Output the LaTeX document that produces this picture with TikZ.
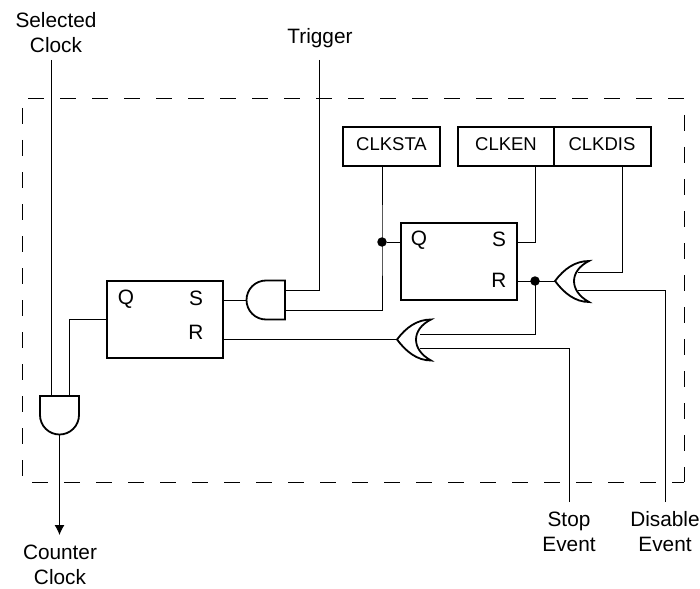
\documentclass[tikz,border=0pt]{standalone}
\usepackage{fontspec}
\setmainfont{Liberation Sans}
\usepackage{xcolor}
\usetikzlibrary{arrows.meta}

\tikzset{
    regbox/.style={draw, line width=1.8pt, rectangle, inner sep=0pt},
    tag/.style={font=\fontsize{20.8}{25}\selectfont, align=center, inner sep=0pt},
    bittag/.style={font=\fontsize{18.5}{22}\selectfont, inner sep=0pt},
    wire/.style={line width=0.95pt},
    frameline/.style={line width=0.95pt, dash pattern=on 16pt off 16pt},
    junction/.style={circle, fill=black, inner sep=0pt, minimum size=9.5pt},
    pics/andgate/.style={code={
        \draw[line width=1.8pt, fill=white] (0,-19.5) -- (-19,-19.5) arc (270:90:19.5) -- (0,19.5) -- cycle;
        \coordinate (-tip) at (-38.5,0);
        \coordinate (-in1) at (0,-10);
        \coordinate (-in2) at (0,10);
    }},
    pics/orgate/.style={code={
        \draw[line width=1.8pt, fill=white] (0,0) .. controls (9,-12) and (20,-20) .. (34,-20)
            .. controls (14,-10) and (14,10) .. (34,21)
            .. controls (20,21) and (9,12) .. (0,0) -- cycle;
        \coordinate (-tip) at (0,0);
        \coordinate (-in1) at (23,-9);
        \coordinate (-in2) at (23,9);
    }},
}

\begin{document}
\begin{tikzpicture}[x=1pt, y=-1pt]
    \useasboundingbox (0,0) rectangle (700,588);

    % frame
    \coordinate (frameTL) at (28,98);
    \coordinate (frameTR) at (684,98);
    \coordinate (frameRT) at (684,115);
    \coordinate (frameBR) at (684,482);
    \coordinate (frameBL) at (32,482);
    \coordinate (frameLT) at (22,108);
    \coordinate (frameLB) at (22,476);
    \draw[frameline] (frameTL) -- (frameTR);
    \draw[frameline] (frameRT) -- (frameBR);
    \draw[frameline] (frameBL) -- (frameBR);
    \draw[frameline] (frameLT) -- (frameLB);

    % registers
    \node[regbox, minimum width=116pt, minimum height=77pt] (regA) at (165,319.5) {};
    \node[regbox, minimum width=116pt, minimum height=77pt] (regB) at (459,261.5) {};
    \node[tag] (regAq) at (126,299.5) {Q};
    \node[tag] (regAs) at (196,298) {S};
    \node[tag] (regAr) at (196,332) {R};
    \node[tag] (regBq) at (419,240.5) {Q};
    \node[tag] (regBs) at (499,239) {S};
    \node[tag] (regBr) at (499,280) {R};

    % control bits
    \node[regbox, minimum width=97pt, minimum height=39pt] (clksta) at (391.5,146.5) {};
    \node[regbox, minimum width=96pt, minimum height=39pt] (clken) at (506,146.5) {};
    \node[regbox, minimum width=97pt, minimum height=39pt] (clkdis) at (602.5,146.5) {};
    \node[bittag] (clkstaT) at (391.5,144) {CLKSTA};
    \node[bittag] (clkenT) at (506,144) {CLKEN};
    \node[bittag] (clkdisT) at (602,144) {CLKDIS};

    % gates
    \pic (andA) at (285,300) {andgate};
    \pic[rotate=90] (andB) at (59.5,396) {andgate};
    \pic (orA) at (555,281) {orgate};
    \pic (orB) at (397,339.5) {orgate};

    % outer labels
    \node[tag] (selclk) at (56,32.5) {Selected\\Clock};
    \node[tag] (trig) at (320,38) {Trigger};
    \node[tag] (cntclk) at (60,564.5) {Counter\\Clock};
    \node[tag] (stopev) at (569,531.5) {Stop\\Event};
    \node[tag] (disev) at (665,531.5) {Disable\\Event};

    % free ends
    \coordinate (selend) at (51,60);
    \coordinate (trigend) at (319,60);
    \coordinate (stopend) at (569,502);
    \coordinate (disend) at (665,502);
    \coordinate (cntend) at (59.5,535);

    \coordinate (starun) at (382,242);
    \coordinate (rdot) at (535,281);
    \node[junction] (stadot) at (starun) {};
    \node[junction] (rstdot) at (rdot) {};

    % wires
    \draw[wire] (selend) -- (selend |- andB-in1);
    \draw[wire] (andB-in2) -- (andB-in2 |- 107,319) -- (regA.west |- 107,319);
    \draw[wire, -{Latex[length=10pt,width=10pt]}] (andB-tip) -- (cntend);
    \draw[wire] (regA.east |- andA-tip) -- (andA-tip);
    \draw[wire] (trigend) -- (trigend |- andA-in1) -- (andA-in1);
    \draw[wire] (clksta.south -| starun) -- (starun) -- (starun |- andA-in2) -- (andA-in2);
    \draw[wire] (stadot) -- (regB.west |- stadot);
    \draw[wire] (clken.south -| rdot) -- (rdot |- stadot) -- (regB.east |- stadot);
    \draw[wire] (regB.east |- rdot) -- (orA-tip);
    \draw[wire] (clkdis.south -| 622,0) -- (622,272) -- (orA-in1);
    \draw[wire] (disend) -- (disend |- orA-in2) -- (orA-in2);
    \draw[wire] (rdot) -- (535,334) -- (orB-in1 |- 535,334);
    \draw[wire] (stopend) -- (stopend |- 569,348) -- (orB-in2 |- 569,348);
    \draw[wire] (regA.east |- orB-tip) -- (orB-tip);
\end{tikzpicture}
\end{document}
